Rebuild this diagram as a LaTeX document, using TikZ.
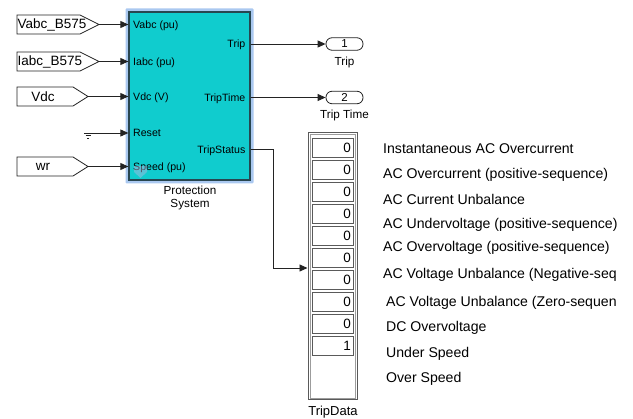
\documentclass[tikz,border=0pt]{standalone}
\usepackage{fontspec}
\setmainfont{Liberation Sans}
\usetikzlibrary{arrows.meta}
\definecolor{blkfill}{RGB}{16,204,206}
\definecolor{blkedge}{RGB}{40,70,80}
\definecolor{glowc}{RGB}{170,200,240}
\definecolor{wirec}{RGB}{35,35,35}
\definecolor{dispc}{RGB}{90,90,90}
\begin{document}
\begin{tikzpicture}[x=1pt,y=-1pt,
  sig/.style={draw=wirec, line width=0.9pt, -{Triangle[length=8pt,width=7pt]}},
  tagshape/.style={draw=wirec, fill=white, line width=0.8pt},
  tagtext/.style={inner sep=0pt, font=\fontsize{13.5}{15}\selectfont},
  portlbl/.style={inner sep=0pt, font=\fontsize{10.6}{12}\selectfont},
  caption/.style={inner sep=0pt, font=\fontsize{11.7}{13}\selectfont, align=center},
  outport/.style={draw=wirec, fill=white, line width=0.8pt, rounded corners=6pt,
    minimum width=37pt, minimum height=12.5pt, inner sep=0pt, font=\fontsize{11.5}{13}\selectfont},
  cellbox/.style={draw=dispc, line width=0.8pt, minimum width=41pt, minimum height=19pt,
    inner sep=0pt, text width=37pt, align=right, font=\fontsize{13.5}{15}\selectfont},
  statlbl/.style={anchor=base west, inner sep=0pt, font=\fontsize{14.1}{16}\selectfont}
]
\useasboundingbox (0,0) rectangle (633,419);

% glow and main block
\fill[glowc, rounded corners=1pt] (125.5,8.5) rectangle (253.5,183.5);
\node[draw=blkedge, fill=blkfill, line width=1.3pt, minimum width=121pt, minimum height=168pt,
  inner sep=0pt] (blk) at (189.5,96) {};

% input tags
\draw[tagshape] (17,15) -- (80,15) -- (99,24.5) -- (80,34) -- (17,34) -- cycle;
\coordinate (vabcTip) at (99,24.5);
\node[tagtext, anchor=west] (vabc) at (17.5,24.5) {Vabc\_B575};
\draw[tagshape] (17,52) -- (80,52) -- (99,61.5) -- (80,71) -- (17,71) -- cycle;
\coordinate (iabcTip) at (99,61.5);
\node[tagtext, anchor=west] (iabc) at (17.5,61.5) {Iabc\_B575};
\draw[tagshape] (17,87) -- (73,87) -- (88,96.5) -- (73,106) -- (17,106) -- cycle;
\coordinate (vdcTip) at (88,96.5);
\node[tagtext] (vdc) at (43,96.5) {Vdc};
\draw[tagshape] (17,157) -- (73,157) -- (88,166.5) -- (73,176) -- (17,176) -- cycle;
\coordinate (wrTip) at (88,166.5);
\node[tagtext] (wr) at (43,166.5) {wr};

% ground
\coordinate (gnd) at (88,133);
\draw[draw=wirec, line width=0.8pt] (84,133) -- (92,133) (85.5,135.5) -- (90.5,135.5) (87,138) -- (89,138);

% input connectors
\draw[sig] (vabcTip) -- (vabcTip -| blk.west);
\draw[sig] (iabcTip) -- (iabcTip -| blk.west);
\draw[sig] (vdcTip) -- (vdcTip -| blk.west);
\draw[sig] (gnd) -- (gnd -| blk.west);
\draw[sig] (wrTip) -- (wrTip -| blk.west);

% port labels
\node[portlbl, anchor=base west] (pin1) at (133,28.3) {Vabc (pu)};
\node[portlbl, anchor=base west] (pin2) at (133,65.3) {Iabc (pu)};
\node[portlbl, anchor=base west] (pin3) at (133,100.3) {Vdc (V)};
\node[portlbl, anchor=base west] (pin4) at (133,136.5) {Reset};
\node[portlbl, anchor=base west] (pin5) at (133,170.3) {Speed (pu)};
\node[portlbl, anchor=base east] (pout1) at (245.5,47.8) {Trip};
\node[portlbl, anchor=base east] (pout2) at (245.5,101.3) {TripTime};
\node[portlbl, anchor=base east] (pout3) at (245.5,153.3) {TripStatus};

% faint icon on speed port
\fill[gray!60!blue!40, opacity=0.45] (134,166) -- (147,166) -- (147,172) -- (140.5,178) -- (134,172) -- cycle;

\node[caption] (blkname) at (190,197.5) {Protection\\System};

% outports
\node[outport] (out1) at (344.5,44) {1};
\node[caption] (out1lbl) at (344.5,62) {Trip};
\node[outport] (out2) at (344.5,97.5) {2};
\node[caption] (out2lbl) at (344.5,115) {Trip Time};
\draw[sig] (blk.east |- out1) -- (out1.west);
\draw[sig] (blk.east |- out2) -- (out2.west);

% display block
\node[draw=dispc, line width=1pt, minimum width=49pt, minimum height=267pt, inner sep=0pt] (disp) at (332.5,266.5) {};
\draw[dispc!60, line width=0.6pt] ([shift={(2.3,2.3)}]disp.north west) rectangle ([shift={(-2.3,-2.3)}]disp.south east);
\foreach \v [count=\i from 0] in {0,0,0,0,0,0,0,0,0,1} {
  \node[cellbox, fill=white] (c\i) at (332.5,147.5+22*\i) {\v};
}
\node[inner sep=0pt, font=\fontsize{13}{15}\selectfont] (displbl) at (333,412) {TripData};

\coordinate (bend) at (273,268);
\draw[sig] (blk.east |- 0,149.5) -| (bend) -- (bend -| disp.west);

% status labels
\node[statlbl] (s1) at (383,154) {Instantaneous AC Overcurrent};
\node[statlbl] (s2) at (383,179) {AC Overcurrent (positive-sequence)};
\node[statlbl] (s3) at (383,205) {AC Current Unbalance};
\node[statlbl] (s4) at (383,229) {AC Undervoltage (positive-sequence)};
\node[statlbl] (s5) at (383,252) {AC Overvoltage (positive-sequence)};
\node[statlbl] (s6) at (383,279) {AC Voltage Unbalance (Negative-seq};
\node[statlbl] (s7) at (386,307) {AC Voltage Unbalance (Zero-sequen};
\node[statlbl] (s8) at (386,332) {DC Overvoltage};
\node[statlbl] (s9) at (386,358) {Under Speed};
\node[statlbl] (s10) at (386,383) {Over Speed};
\end{tikzpicture}
\end{document}
